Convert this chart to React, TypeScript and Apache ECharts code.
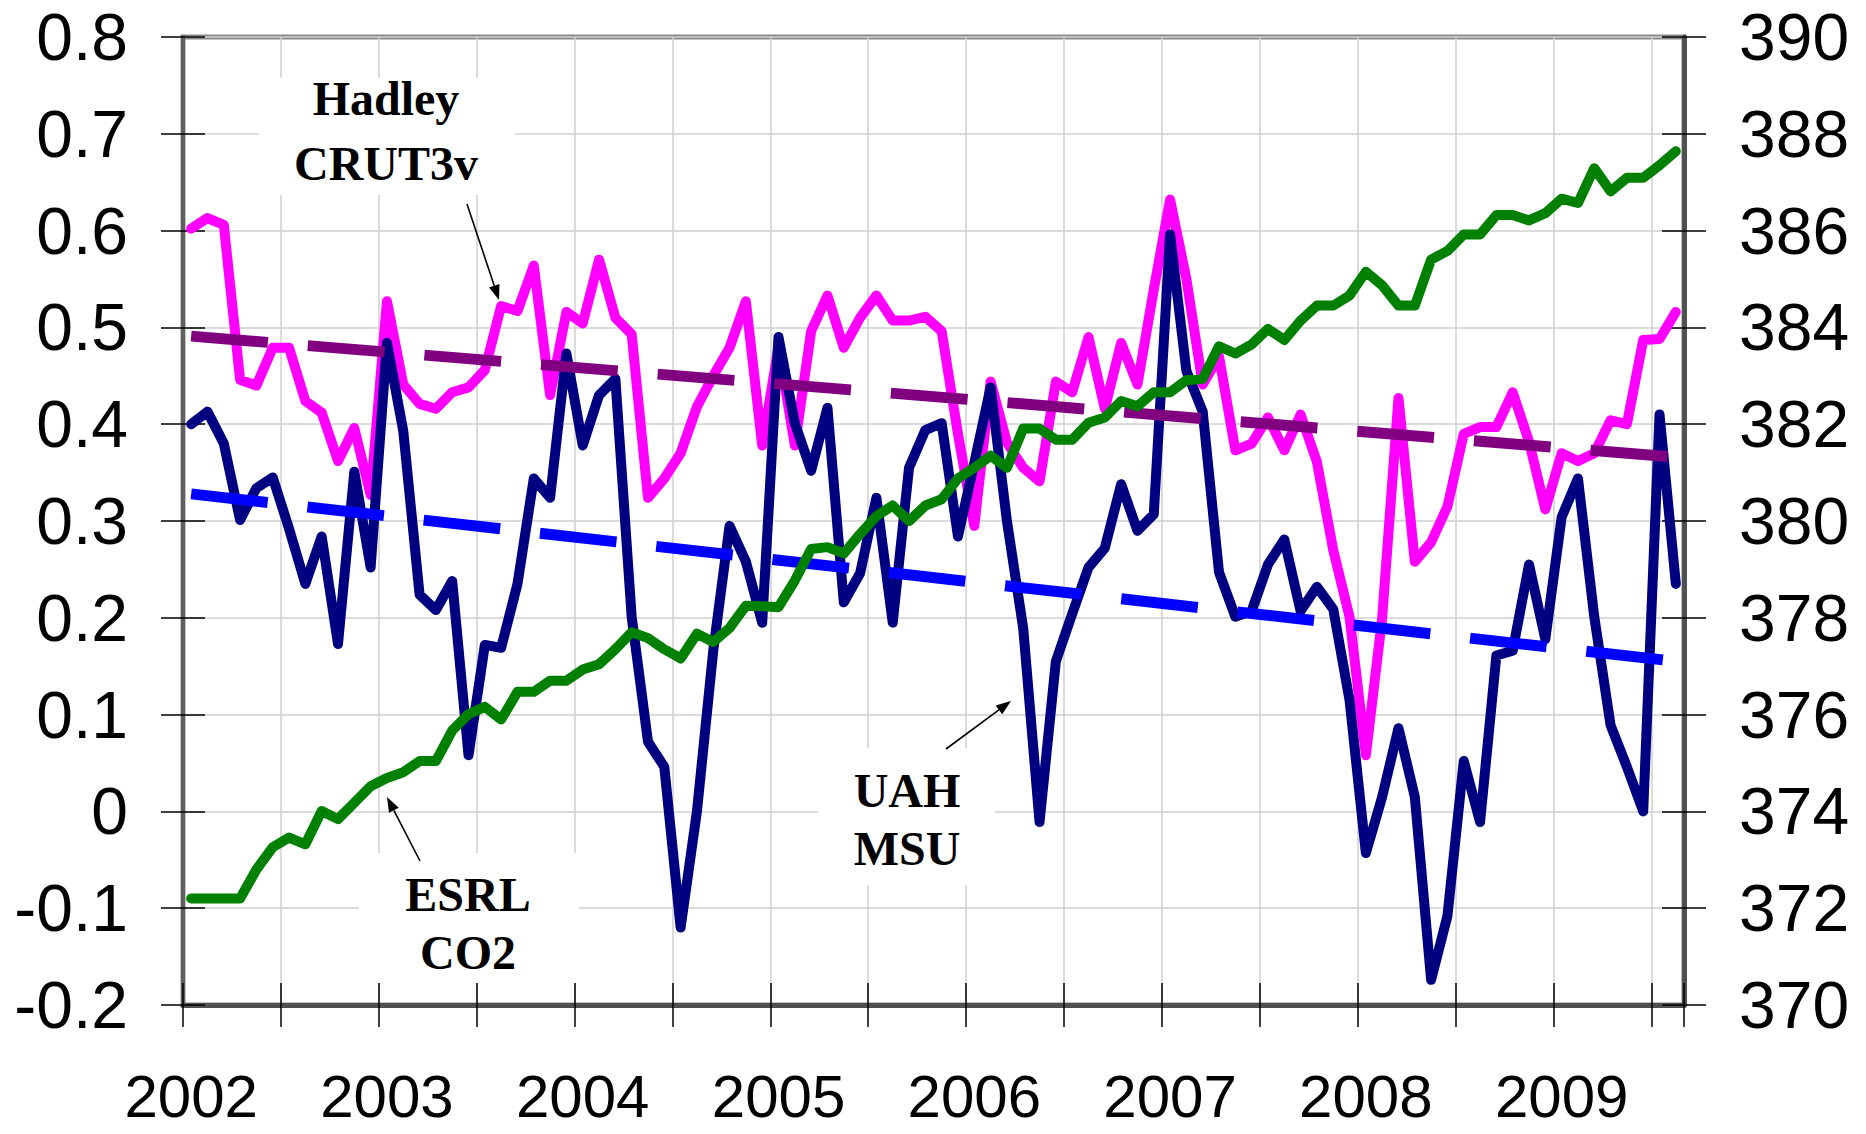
import React, { useEffect, useRef } from "react";
import * as echarts from "echarts";

// ---- categories: monthly, Jan 2002 .. Aug 2009 ----
const startYear = 2002;
const monthCount = 92;
const months: string[] = Array.from(
  { length: monthCount },
  (_, i) => `${startYear + Math.floor(i / 12)}-${String((i % 12) + 1).padStart(2, "0")}`
);

// ---- series values ----
// Hadley CRUT3v monthly anomaly (left axis)
const hadley = [
  0.602, 0.613, 0.606, 0.446, 0.44, 0.479, 0.479, 0.424, 0.412, 0.362, 0.396, 0.327,
  0.527, 0.441, 0.421, 0.416, 0.433, 0.438, 0.456, 0.522, 0.517, 0.564, 0.43, 0.516,
  0.504, 0.57, 0.51, 0.493, 0.324, 0.344, 0.37, 0.418, 0.45, 0.479, 0.527, 0.378,
  0.48, 0.378, 0.496, 0.533, 0.479, 0.51, 0.533, 0.507, 0.507, 0.511, 0.496, 0.39,
  0.295, 0.444, 0.381, 0.355, 0.341, 0.444, 0.433, 0.49, 0.416, 0.484, 0.441, 0.539,
  0.632, 0.55, 0.441, 0.47, 0.373, 0.38, 0.407, 0.373, 0.41, 0.361, 0.27, 0.201,
  0.058, 0.2, 0.427, 0.258, 0.278, 0.315, 0.39, 0.397, 0.397, 0.433, 0.382, 0.312,
  0.37, 0.362, 0.37, 0.404, 0.4, 0.487, 0.488, 0.516,
];

// UAH MSU monthly anomaly (left axis)
const uah = [
  0.4, 0.413, 0.38, 0.301, 0.334, 0.345, 0.292, 0.235, 0.284, 0.173, 0.351, 0.252,
  0.484, 0.393, 0.224, 0.208, 0.238, 0.058, 0.172, 0.169, 0.235, 0.344, 0.324, 0.473,
  0.378, 0.43, 0.447, 0.201, 0.072, 0.046, -0.12, 0.0, 0.166, 0.295, 0.258, 0.195,
  0.49, 0.401, 0.352, 0.417, 0.216, 0.246, 0.324, 0.195, 0.355, 0.394, 0.401, 0.284,
  0.36, 0.438, 0.3, 0.189, -0.011, 0.155, 0.204, 0.252, 0.272, 0.338, 0.29, 0.307,
  0.596, 0.455, 0.413, 0.247, 0.201, 0.207, 0.255, 0.281, 0.207, 0.232, 0.209, 0.115,
  -0.043, 0.015, 0.086, 0.015, -0.174, -0.108, 0.052, -0.011, 0.161, 0.166, 0.255, 0.178,
  0.304, 0.344, 0.201, 0.089, 0.046, 0.0, 0.41, 0.235,
];

// ESRL CO2 (right axis, ppm)
const co2 = [
  372.2, 372.2, 372.2, 372.2, 372.8, 373.26, 373.46, 373.32, 374.01, 373.84, 374.18, 374.52,
  374.69, 374.81, 375.04, 375.04, 375.67, 376.01, 376.16, 375.9, 376.47, 376.47, 376.7, 376.7,
  376.93, 377.04, 377.35, 377.7, 377.58, 377.35, 377.16, 377.67, 377.5, 377.79, 378.25, 378.24,
  378.22, 378.77, 379.42, 379.46, 379.33, 379.73, 380.1, 380.32, 380.0, 380.32, 380.45, 380.88,
  381.1, 381.35, 381.1, 381.91, 381.91, 381.68, 381.68, 382.03, 382.14, 382.48, 382.37, 382.66,
  382.66, 382.91, 382.94, 383.61, 383.46, 383.65, 383.97, 383.74, 384.14, 384.45, 384.45, 384.66,
  385.15, 384.87, 384.45, 384.45, 385.4, 385.58, 385.92, 385.92, 386.32, 386.32, 386.21, 386.36,
  386.66, 386.57, 387.29, 386.81, 387.09, 387.09, 387.35, 387.64,
];

// linear trends (start value, end value)
const hadleyTrend = [0.491, 0.366];
const uahTrend = [0.328, 0.155];

// axis ranges
const leftMin = -0.2;
const leftMax = 0.8;
const leftStep = 0.1;
const rightMin = 370;
const rightMax = 390;
const rightStep = 2;

// annotation labels
const hadleyLabel = ["Hadley", "CRUT3v"];
const esrlLabel = ["ESRL", "CO2"];
const uahLabel = ["UAH", "MSU"];

const W = 1866;
const H = 1134;
const GRID = { left: 183, right: 182, top: 37, bottom: 129 };
const SANS = "'Liberation Sans', Arial, sans-serif";
const SERIF = "'Liberation Serif', 'Times New Roman', serif";

function arrow(x1: number, y1: number, x2: number, y2: number) {
  const dx = x2 - x1;
  const dy = y2 - y1;
  const len = Math.sqrt(dx * dx + dy * dy);
  const ux = dx / len;
  const uy = dy / len;
  const headLen = 15;
  const headHalf = 5.5;
  const bx = x2 - ux * headLen;
  const by = y2 - uy * headLen;
  const nx = -uy;
  const ny = ux;
  return [
    {
      type: "line",
      z: 20,
      shape: { x1, y1, x2: bx, y2: by },
      style: { stroke: "#000", lineWidth: 1.6 },
    },
    {
      type: "polygon",
      z: 20,
      shape: {
        points: [
          [x2, y2],
          [bx + nx * headHalf, by + ny * headHalf],
          [bx - nx * headHalf, by - ny * headHalf],
        ],
      },
      style: { fill: "#000" },
    },
  ];
}

function labelBlock(lines: string[], cx: number, ys: number[], box: number[]) {
  const els: any[] = [
    {
      type: "rect",
      z: 1,
      shape: { x: box[0], y: box[1], width: box[2] - box[0], height: box[3] - box[1] },
      style: { fill: "#fff" },
    },
  ];
  lines.forEach((t, k) => {
    els.push({
      type: "text",
      z: 21,
      x: cx,
      y: ys[k],
      style: {
        text: t,
        font: `bold 48px ${SERIF}`,
        fill: "#000",
        textAlign: "center",
        textVerticalAlign: "middle",
        align: "center",
        verticalAlign: "middle",
      },
    });
  });
  return els;
}

export default function App() {
  const ref = useRef<HTMLDivElement>(null);

  useEffect(() => {
    if (!ref.current) return;
    const chart = echarts.init(ref.current, undefined, { renderer: "svg" });

    const leftLabelFmt = (v: number) => (Math.abs(v) < 1e-9 ? "0" : v.toFixed(1));
    const rightLabelFmt = (v: number) => String(Math.round(v));
    const tickStyle = { color: "#000", width: 1.5 };
    const lw = 10;
    const trendW = 11;

    const option: any = {
      animation: false,
      backgroundColor: "#fff",
      grid: {
        ...GRID,
        show: true,
        borderColor: "#8a8a8a",
        borderWidth: 5,
        backgroundColor: "transparent",
      },
      xAxis: [
        {
          type: "category",
          data: months,
          boundaryGap: true,
          position: "bottom",
          axisLine: { show: true, onZero: false, lineStyle: { color: "#505050", width: 5 } },
          axisTick: { show: true, inside: false, length: 22, interval: 5, lineStyle: tickStyle },
          splitLine: { show: true, interval: 5, lineStyle: { color: "#cfcfcf", width: 1.5 } },
          axisLabel: {
            interval: 11,
            margin: 62,
            fontSize: 60,
            lineHeight: 58,
            fontFamily: SANS,
            color: "#000",
            formatter: (v: string) => v.slice(0, 4),
          },
        },
        {
          type: "category",
          data: months,
          boundaryGap: true,
          position: "bottom",
          axisLine: { show: false, onZero: false },
          axisTick: { show: true, inside: true, length: 22, interval: 5, lineStyle: tickStyle },
          splitLine: { show: false },
          axisLabel: { show: false },
        },
      ],
      yAxis: [
        {
          type: "value",
          position: "left",
          min: leftMin,
          max: leftMax,
          interval: leftStep,
          axisLine: { show: true, onZero: false, lineStyle: { color: "#606060", width: 4 } },
          axisTick: { show: true, inside: false, length: 22, lineStyle: tickStyle },
          splitLine: { show: true, lineStyle: { color: "#cfcfcf", width: 1.5 } },
          axisLabel: { margin: 55, fontSize: 66, fontFamily: SANS, color: "#000", formatter: leftLabelFmt },
        },
        {
          type: "value",
          position: "right",
          min: rightMin,
          max: rightMax,
          interval: rightStep,
          axisLine: { show: true, onZero: false, lineStyle: { color: "#505050", width: 5 } },
          axisTick: { show: true, inside: false, length: 22, lineStyle: tickStyle },
          splitLine: { show: false },
          axisLabel: { margin: 55, fontSize: 66, fontFamily: SANS, color: "#000", formatter: rightLabelFmt },
        },
        {
          type: "value",
          position: "left",
          min: leftMin,
          max: leftMax,
          interval: leftStep,
          axisLine: { show: false, onZero: false },
          axisTick: { show: true, inside: true, length: 22, lineStyle: tickStyle },
          splitLine: { show: false },
          axisLabel: { show: false },
        },
        {
          type: "value",
          position: "right",
          min: rightMin,
          max: rightMax,
          interval: rightStep,
          axisLine: { show: false, onZero: false },
          axisTick: { show: true, inside: true, length: 22, lineStyle: tickStyle },
          splitLine: { show: false },
          axisLabel: { show: false },
        },
      ],
      series: [
        {
          name: "Hadley CRUT3v",
          type: "line",
          data: hadley,
          symbol: "none",
          z: 3,
          lineStyle: { color: "#ff00ff", width: lw, cap: "round", join: "round" },
        },
        {
          name: "UAH MSU",
          type: "line",
          data: uah,
          symbol: "none",
          z: 4,
          lineStyle: { color: "#000080", width: lw, cap: "round", join: "round" },
        },
        {
          name: "Hadley trend",
          type: "line",
          data: [
            [months[0], hadleyTrend[0]],
            [months[monthCount - 1], hadleyTrend[1]],
          ],
          symbol: "none",
          z: 5,
          lineStyle: { color: "#800080", width: trendW, type: [77, 40], cap: "butt" },
        },
        {
          name: "UAH trend",
          type: "line",
          data: [
            [months[0], uahTrend[0]],
            [months[monthCount - 1], uahTrend[1]],
          ],
          symbol: "none",
          z: 5,
          lineStyle: { color: "#0000ff", width: trendW, type: [77, 40], cap: "butt" },
        },
        {
          name: "ESRL CO2",
          type: "line",
          yAxisIndex: 1,
          data: co2,
          symbol: "none",
          z: 6,
          lineStyle: { color: "#008000", width: lw, cap: "round", join: "round" },
        },
      ],
      graphic: [
        ...labelBlock(hadleyLabel, 386, [98, 163], [259, 78, 515, 195]),
        ...labelBlock(esrlLabel, 468, [894, 952], [359, 853, 579, 983]),
        ...labelBlock(uahLabel, 907, [790, 848], [818, 748, 995, 885]),
        ...arrow(467, 204, 499, 300),
        ...arrow(420, 861, 387, 797),
        ...arrow(946, 749, 1011, 701),
      ],
    };

    chart.setOption(option);
    return () => chart.dispose();
  }, []);

  return (
    <div
      ref={ref}
      style={{ position: "fixed", left: 0, top: 0, width: W, height: H, background: "#fff" }}
    />
  );
}
